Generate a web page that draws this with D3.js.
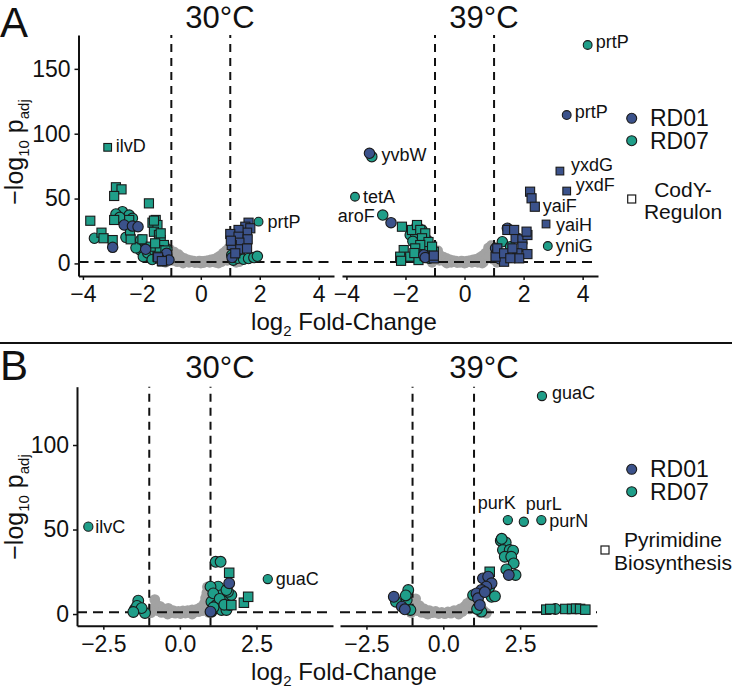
<!DOCTYPE html>
<html><head><meta charset="utf-8">
<script src="https://cdn.jsdelivr.net/npm/d3@7"></script>
<style>body{margin:0;background:#fff}svg{display:block}</style>
</head><body><svg id="c" width="733" height="693"></svg>
<script>
// ---------- DATA: [log2 fold-change, -log10 padj, CodY/pyr regulon member (1) ] ----------
const A_xTicks = [-4, -2, 0, 2, 4];
const A_yTicks = [0, 50, 100, 150];
const B_xTicks = [-2.5, 0, 2.5];
const B_yTicks = [0, 50, 100];
const strains = ["RD01", "RD07"];
const legendA = ["CodY-", "Regulon"];
const legendB = ["Pyrimidine", "Biosynthesis"];
const foldThreshold = [-1, 1];
const padjThreshold = 1;

// Panel A, 30°C
const A30_RD07 = [[-2.88,58.7,1],[-2.69,57.1,1],[-2.94,52.0,1],[-1.76,46.3,1],[-3.75,32.9,1],[-2.94,33.5,1],[-3.37,23.7,1],[-3.30,19.4,1],[-2.99,18.0,1],[-2.38,18.6,1],[-1.98,18.6,1],[-1.64,31.4,1],[-1.53,33.5,1],[-1.47,29.6,1],[-1.59,24.4,1],[-1.42,21.9,1],[-1.36,18.0,1],[-1.25,14.2,1],[-1.42,10.3,1],[-1.70,12.9,1],[-1.47,5.2,1],[-1.14,6.5,1],[-1.30,1.5,1],[-1.55,15.5,1],[-2.43,33.5,1],[-1.59,33.0,1],[-1.36,23.2,1],[-1.20,10.0,1],[-2.40,25.5,1],
  [-2.66,39.9,0],[-2.88,38.1,0],[-2.43,37.3,0],[-2.32,34.8,0],[-2.54,20.1,0],[-3.61,19.4,0],[-2.04,18.0,0],[-2.06,10.3,0],[-1.95,5.2,0],[-1.80,8.0,0],[-1.55,9.0,0],[-1.40,12.0,0],[-1.30,8.0,0],[-1.20,4.0,0],[-1.65,3.0,0],[-2.20,12.0,0],[-1.15,11.0,0],[-2.75,35.5,0],
  [1.10,2.5,0],[1.25,4.0,0],[1.45,3.2,0],[1.62,3.8,0],[1.80,4.5,0],[1.92,5.5,0],[1.05,6.5,0]];
const A30_RD01 = [[-2.60,29.6,0],[-2.32,28.8,0],[-2.13,28.3,0],[-2.99,12.4,0],[-1.87,10.9,0],[-1.16,7.8,0],[-1.08,2.6,0],[-1.40,3.5,0],[1.06,4.5,0],
  [-1.45,4.7,1],[-1.32,1.8,1],[1.62,31.4,1],[1.51,28.3,1],[1.68,27.1,1],[1.57,23.7,1],[1.28,25.8,1],[1.00,22.7,1],[1.28,20.6,1],[1.59,18.6,1],[1.31,16.0,1],[1.05,14.2,1],[1.34,10.9,1],[1.57,11.5,1],[1.17,7.8,1],[1.02,17.5,1]];
const A30_gray = [[-1.35,3],[-1.30,12],[-1.25,6],[-1.20,14],[-1.15,9],[-1.10,4],[-1.05,11],[-1.00,7],[-0.95,2],[-0.90,9],[-0.85,5],[-0.80,1],[-0.75,7],[-0.70,3],[-0.65,5],[-0.60,1],[-0.55,4],[-0.50,2],[-0.45,3],[-0.40,0.5],[-0.35,2.5],[-0.30,1],[-0.25,2],[-0.20,0.3],[-0.15,1.5],[-0.10,0.5],[-0.05,2],[0.00,0.8],[0.05,1.8],[0.10,0.4],[0.15,2],[0.20,1],[0.25,2.5],[0.30,0.5],[0.35,3],[0.40,1.2],[0.45,3.5],[0.50,0.6],[0.55,4.5],[0.60,2],[0.65,6],[0.70,1],[0.75,8],[0.80,4],[0.85,10],[0.90,2],[0.95,12],[1.00,6],[1.05,15],[1.10,9],[1.15,3],[1.20,11],[1.25,5],[1.30,1],[-0.60,0],[0.00,0],[0.60,0],[-1.20,0.5],[1.20,0.5]];
const A30_labels = [["ilvD",-3.16,89.5,"RD07",1],["prtP",1.96,32.2,"RD07",0]];

// Panel A, 39°C
const A39_RD07 = [[-3.14,82.3,0],[-1.84,21.9,0],[-1.61,28.8,0],[-1.44,25.8,0],[-1.67,23.2,0],[-1.27,18.0,0],[-1.38,12.9,0],[-1.50,7.7,0],[1.28,16.7,0],[1.56,12.9,0],[-1.20,4.0,0],[-1.75,17.0,0],
  [-2.12,28.3,1],[-1.78,25.8,1],[-1.61,29.6,1],[-1.50,25.8,1],[-1.33,23.2,1],[-1.44,19.4,1],[-1.22,16.5,1],[-1.50,14.2,1],[-1.67,11.6,1],[-2.06,10.3,1],[-2.18,5.2,1],[-1.84,5.2,1],[-1.56,2.6,1],[-1.04,9.0,1],[-1.10,12.9,1],[-2.15,2.0,1],[-1.35,6.0,1],[-1.70,8.0,1]];
const A39_RD01 = [[-2.49,31.4,0],[-1.38,6.5,0],[-1.33,4.5,0],[1.45,27.1,0],[1.05,11.6,0],[1.10,8.5,0],[1.20,3.5,0],
  [2.22,55.3,1],[2.27,50.2,1],[1.45,25.8,1],[1.73,19.4,1],[1.96,18.6,1],[2.13,21.9,1],[1.68,25.8,1],[1.96,12.9,1],[1.79,7.8,1],[2.13,7.2,1],[1.85,3.9,1],[1.34,1.3,1],[1.05,5.2,1],[1.11,11.6,1],[1.34,7.8,1],[1.62,11.6,1],[2.10,24.5,1],[1.55,4.0,1],[-1.04,3.9,1],[-1.04,6.0,1]];
const A39_gray = [[-1.30,4],[-1.25,11],[-1.20,14],[-1.15,7],[-1.10,12],[-1.05,3],[-1.00,9],[-0.95,5],[-0.90,10],[-0.85,2],[-0.80,6],[-0.75,3],[-0.70,5],[-0.65,1],[-0.60,4],[-0.55,2],[-0.50,3],[-0.45,0.5],[-0.40,2.5],[-0.35,1],[-0.30,2],[-0.25,0.4],[-0.20,1.5],[-0.15,0.5],[-0.10,2],[-0.05,0.8],[0.00,1.6],[0.05,0.3],[0.10,2],[0.15,1],[0.20,2.4],[0.25,0.5],[0.30,3],[0.35,1.2],[0.40,3.5],[0.45,0.6],[0.50,4.5],[0.55,2],[0.60,6],[0.65,1],[0.70,8],[0.75,4],[0.80,12],[0.85,6],[0.90,14],[0.95,3],[1.00,10],[1.05,6],[1.10,12],[1.15,2],[1.20,8],[1.25,4],[-0.60,0],[0.00,0],[0.60,0],[-1.10,0.5],[1.10,0.5]];
const A39_labels = [["prtP",4.17,168.4,"RD07",0],["prtP",3.46,114.4,"RD01",0],["yvbW",-3.22,84.9,"RD01",0],["tetA",-3.71,51.4,"RD07",0],["aroF",-2.77,37.3,"RD07",0],["yxdG",3.23,71.2,"RD01",1],["yxdF",3.46,55.8,"RD01",1],["yaiF",2.38,43.7,"RD01",1],["yaiH",2.76,30.4,"RD01",1],["yniG",2.82,13.4,"RD07",0]];

// Panel B, 30°C
const B30_RD07 = [[1.17,30.9,0],[1.33,30.9,0],[1.03,7.3,0],[1.14,13.2,0],[1.25,16.2,0],[1.36,11.2,0],[1.47,8.3,0],[1.19,5.3,0],[1.36,2.4,0],[1.52,2.4,0],[1.63,5.3,0],[1.68,11.2,0],[1.03,1.4,0],[1.57,13.2,0],[1.00,16.2,0],[1.09,12.2,0],[1.52,14.2,0],[1.30,9.0,0],[1.10,4.0,0],[1.45,5.5,0],
  [-1.36,7.9,0],[-1.47,2.8,0],[-1.14,0.6,0],[-1.40,4.8,0],[-1.25,3.5,0],[-1.52,1.2,0],
  [1.61,24.4,1],[2.09,6.7,1],[2.23,10.2,1],[1.68,5.3,1]];
const B30_RD01 = [[1.61,18.2,0],[1.00,1.4,0]];
const B30_gray = [[-0.88,3],[-0.82,8.5],[-0.78,5.5],[-0.72,2],[-0.65,4.5],[-0.60,1],[-0.52,3],[-0.45,1.5],[-0.38,3.4],[-0.30,0.8],[-0.22,2],[-0.15,0.5],[-0.05,1.5],[0.02,0.3],[0.10,1.8],[0.18,0.6],[0.25,2],[0.32,1],[0.40,2.5],[0.48,1.2],[0.55,2.8],[0.62,1.5],[0.68,4],[0.74,2],[0.80,6.3],[0.84,9.5],[0.88,12.5],[0.90,16],[0.92,4],[-0.95,0.8],[0.95,1],[-0.40,0],[0.40,0]];
const B30_labels = [["ilvC",-2.99,51.7,"RD07",0],["guaC",2.87,20.7,"RD07",0]];

// Panel B, 39°C
const B39_RD07 = [[1.87,43.4,0],[2.03,42.3,0],[1.94,37.9,0],[2.16,37.9,0],[2.27,37.5,0],[2.00,33.9,0],[2.21,33.9,0],[2.29,30.0,0],[2.05,26.4,0],[2.35,23.1,0],[1.90,44.5,0],[1.57,10.2,0],[1.68,10.5,0],[1.24,1.4,0],[0.97,11.2,0],[1.50,16.0,0],[1.10,3.0,0],[3.65,3.0,0],
  [-1.54,7.3,0],[-1.14,14.2,0],[-1.19,8.3,0],[-1.07,2.4,0],[-1.22,11.0,0],
  [1.51,25.0,1],[3.35,2.6,1],[3.48,3.0,1],[3.97,3.0,1],[4.19,3.0,1],[4.32,3.2,1],[4.45,3.0,1],[4.62,2.6,1]];
const B39_RD01 = [[2.13,23.1,0],[1.29,21.1,0],[1.46,22.1,0],[1.57,18.2,0],[1.40,16.2,0],[1.24,14.2,0],[1.08,12.2,0],[1.13,9.3,0],[1.19,5.3,0],[1.35,13.0,0],[-1.61,10.2,0],[-1.35,4.4,0],[-1.25,2.8,0]];
const B39_gray = [[-1.05,1],[-1.00,7],[-0.95,4],[-0.90,9],[-0.85,2],[-0.78,5],[-0.70,1],[-0.62,3],[-0.55,0.5],[-0.45,2],[-0.35,0.8],[-0.25,1.5],[-0.15,0.3],[-0.05,1],[0.05,0.2],[0.15,1.2],[0.25,0.5],[0.35,2],[0.45,1],[0.55,3],[0.62,1.5],[0.70,4.5],[0.78,6.3],[0.85,3],[0.90,8],[0.96,10],[1.00,5],[1.10,3],[1.20,1],[1.30,2],[1.40,0.5],[-0.50,0],[0.50,0]];
const B39_labels = [["guaC",3.21,129.0,"RD07",0],["purK",2.10,55.6,"RD07",0],["purL",2.62,54.6,"RD07",0],["purN",3.19,55.6,"RD07",0]];

// ---------- STYLE / LAYOUT ----------
const FONT = '"Liberation Sans", Arial, Helvetica, sans-serif';
const colors = {RD01: "#3b528b", RD07: "#1f9e89"};
const ink = "#111";
const labelNudge = { // dx, dy, anchor, small mark
  "A30:ilvD:RD07": [8, -1, "start", true], "A30:prtP:RD07": [9, 0, "start", true],
  "A39:prtP:RD07": [8, -3, "start", true], "A39:prtP:RD01": [8, -3, "start", true],
  "A39:yvbW:RD01": [12, 2, "start", false], "A39:tetA:RD07": [8, 0, "start", true],
  "A39:aroF:RD07": [-8, 1, "end", false], "A39:yxdG:RD01": [11, -6, "start", true],
  "A39:yxdF:RD01": [9, -6, "start", true], "A39:yaiF:RD01": [8, -1, "start", false],
  "A39:yaiH:RD01": [10, 1, "start", true], "A39:yniG:RD07": [8, 0, "start", true],
  "B30:ilvC:RD07": [7, 0, "start", true], "B30:guaC:RD07": [8, 0, "start", true],
  "B39:guaC:RD07": [10, -3, "start", true], "B39:purK:RD07": [-11, -17, "middle", true],
  "B39:purL:RD07": [20, -18, "middle", true], "B39:purN:RD07": [8, 1, "start", true]
};

const rows = [
  {letter: "A", letterY: 37, top: 35, bottom: 276, yDomain: [-9.7, 176.1], yTicks: A_yTicks, xDomain: [-4.15, 4.52], xTicks: A_xTicks,
   fmt: d3.format("d"), titleY: 28, xTitleY: 330, yTitleY: 152, r: 5.2, grayR: 5,
   legY: 118.3, legBox: [631.7, 199], legTextX: 683, legLines: [189, 211], legText: legendA,
   panels: [
     {key: "A30", title: "30°C", titleX: 220, range: [78.5, 334], RD01: A30_RD01, RD07: A30_RD07, gray: A30_gray, labels: A30_labels},
     {key: "A39", title: "39°C", titleX: 484, range: [342, 598], RD01: A39_RD01, RD07: A39_RD07, gray: A39_gray, labels: A39_labels}]},
  {letter: "B", letterY: 380, top: 386.7, bottom: 625.7, yDomain: [-6.9, 134.5], yTicks: B_yTicks, xDomain: [-3.36, 5.0], xTicks: B_xTicks,
   fmt: d3.format(".1f"), titleY: 378, xTitleY: 680, yTitleY: 507, r: 5.4, grayR: 5.4,
   legY: 469.3, legBox: [605, 550], legTextX: 673, legLines: [539, 562.5], legText: legendB,
   panels: [
     {key: "B30", title: "30°C", titleX: 220, range: [77, 333], RD01: B30_RD01, RD07: B30_RD07, gray: B30_gray, labels: B30_labels},
     {key: "B39", title: "39°C", titleX: 484, range: [340, 597], RD01: B39_RD01, RD07: B39_RD07, gray: B39_gray, labels: B39_labels}]}
];

const svg = d3.select("#c").style("font-family", FONT);

function mark(g, x, y, d, color, r, small) {
  const rr = small ? r - 0.8 : r;
  if (d[2]) {
    const s = rr * 1.75;
    g.append("rect").attr("x", x(d[0]) - s / 2).attr("y", y(d[1]) - s / 2).attr("width", s).attr("height", s)
      .attr("fill", color).attr("stroke", "#1a1a1a").attr("stroke-width", 1.1);
  } else {
    g.append("circle").attr("cx", x(d[0])).attr("cy", y(d[1])).attr("r", rr)
      .attr("fill", color).attr("stroke", "#1a1a1a").attr("stroke-width", 1.1);
  }
}

rows.forEach(row => {
  const y = d3.scaleLinear().domain(row.yDomain).range([row.bottom, row.top]);
  svg.append("text").attr("x", 0).attr("y", row.letterY).attr("font-size", 42).attr("fill", ink).text(row.letter);

  row.panels.forEach((p, i) => {
    const x = d3.scaleLinear().domain(row.xDomain).range(p.range);
    const g = svg.append("g");
    // background (non-significant) genes
    g.selectAll(null).data(p.gray).join("circle")
      .attr("cx", d => x(d[0])).attr("cy", d => y(d[1])).attr("r", row.grayR).attr("fill", "#a2a2a2");
    // threshold lines
    foldThreshold.forEach(v => {
      g.append("line").attr("x1", x(v)).attr("x2", x(v)).attr("y1", row.bottom).attr("y2", row.top)
        .attr("stroke", ink).attr("stroke-width", 2).attr("stroke-dasharray", "8,6");
    });
    g.append("line").attr("x1", p.range[0]).attr("x2", p.range[1]).attr("y1", y(padjThreshold)).attr("y2", y(padjThreshold))
      .attr("stroke", ink).attr("stroke-width", 2).attr("stroke-dasharray", "10,6");
    // points
    const order = [["RD07", 0], ["RD07", 1], ["RD01", 0], ["RD01", 1]];
    order.forEach(([s, reg]) => {
      p[s].filter(d => d[2] === reg).forEach(d => mark(g, x, y, d, colors[s], row.r, false));
    });
    // labelled genes
    p.labels.forEach(l => {
      const nd = labelNudge[p.key + ":" + l[0] + ":" + l[3]] || [8, 0, "start", true];
      mark(g, x, y, [l[1], l[2], l[4]], colors[l[3]], row.r, nd[3]);
      g.append("text").attr("x", x(l[1]) + nd[0]).attr("y", y(l[2]) + nd[1])
        .attr("text-anchor", nd[2]).attr("dominant-baseline", "central")
        .attr("font-size", 18).attr("fill", ink).text(l[0]);
    });
    // x axis
    const ax = g.append("g").attr("transform", `translate(0,${row.bottom})`)
      .call(d3.axisBottom(x).tickValues(row.xTicks).tickFormat(row.fmt).tickSize(4).tickSizeOuter(0));
    ax.select(".domain").attr("stroke", ink).attr("stroke-width", 2);
    ax.selectAll(".tick line").attr("stroke", ink).attr("stroke-width", 1.5);
    ax.selectAll(".tick text").attr("y", 26).attr("dy", null).attr("font-size", 23).attr("font-family", FONT).attr("fill", ink);
    // y axis (left facet only)
    if (i === 0) {
      const ay = g.append("g").attr("transform", `translate(${p.range[0]},0)`)
        .call(d3.axisLeft(y).tickValues(row.yTicks).tickSize(4).tickSizeOuter(0));
      ay.select(".domain").attr("stroke", ink).attr("stroke-width", 2);
      ay.selectAll(".tick line").attr("stroke", ink).attr("stroke-width", 1.5);
      ay.selectAll(".tick text").attr("x", -8).attr("font-size", 23).attr("font-family", FONT).attr("fill", ink);
    }
    // facet title
    svg.append("text").attr("x", p.titleX).attr("y", row.titleY).attr("text-anchor", "middle")
      .attr("font-size", 31).attr("fill", ink).text(p.title);
  });

  // axis titles
  const xt = svg.append("text").attr("x", 344).attr("y", row.xTitleY).attr("text-anchor", "middle").attr("font-size", 24).attr("fill", ink);
  xt.append("tspan").text("log");
  xt.append("tspan").attr("font-size", 15).attr("dy", 6).text("2");
  xt.append("tspan").attr("dy", -6).text(" Fold-Change");
  const yt = svg.append("text").attr("transform", `translate(23,${row.yTitleY}) rotate(-90)`).attr("text-anchor", "middle").attr("font-size", 25).attr("fill", ink);
  yt.append("tspan").text("−log");
  yt.append("tspan").attr("font-size", 15).attr("dy", 6).text("10");
  yt.append("tspan").attr("dy", -6).text(" p");
  yt.append("tspan").attr("font-size", 15).attr("dy", 6).text("adj");

  // legend
  strains.forEach((s, k) => {
    const ly = row.legY + k * 22.4;
    svg.append("circle").attr("cx", 631.7).attr("cy", ly).attr("r", 5).attr("fill", colors[s]).attr("stroke", "#1a1a1a").attr("stroke-width", 1.1);
    svg.append("text").attr("x", 650).attr("y", ly).attr("dominant-baseline", "central").attr("font-size", 23).attr("fill", ink).text(s);
  });
  svg.append("rect").attr("x", row.legBox[0] - 4).attr("y", row.legBox[1] - 4).attr("width", 8).attr("height", 8)
    .attr("fill", "#fff").attr("stroke", "#1a1a1a").attr("stroke-width", 1.2);
  row.legText.forEach((t, k) => {
    svg.append("text").attr("x", row.legTextX).attr("y", row.legLines[k]).attr("text-anchor", "middle")
      .attr("dominant-baseline", "central").attr("font-size", 21).attr("fill", ink).text(t);
  });
});

// separator between panels A and B
svg.append("line").attr("x1", 0).attr("x2", 732).attr("y1", 343).attr("y2", 343).attr("stroke", ink).attr("stroke-width", 2);
</script></body></html>
